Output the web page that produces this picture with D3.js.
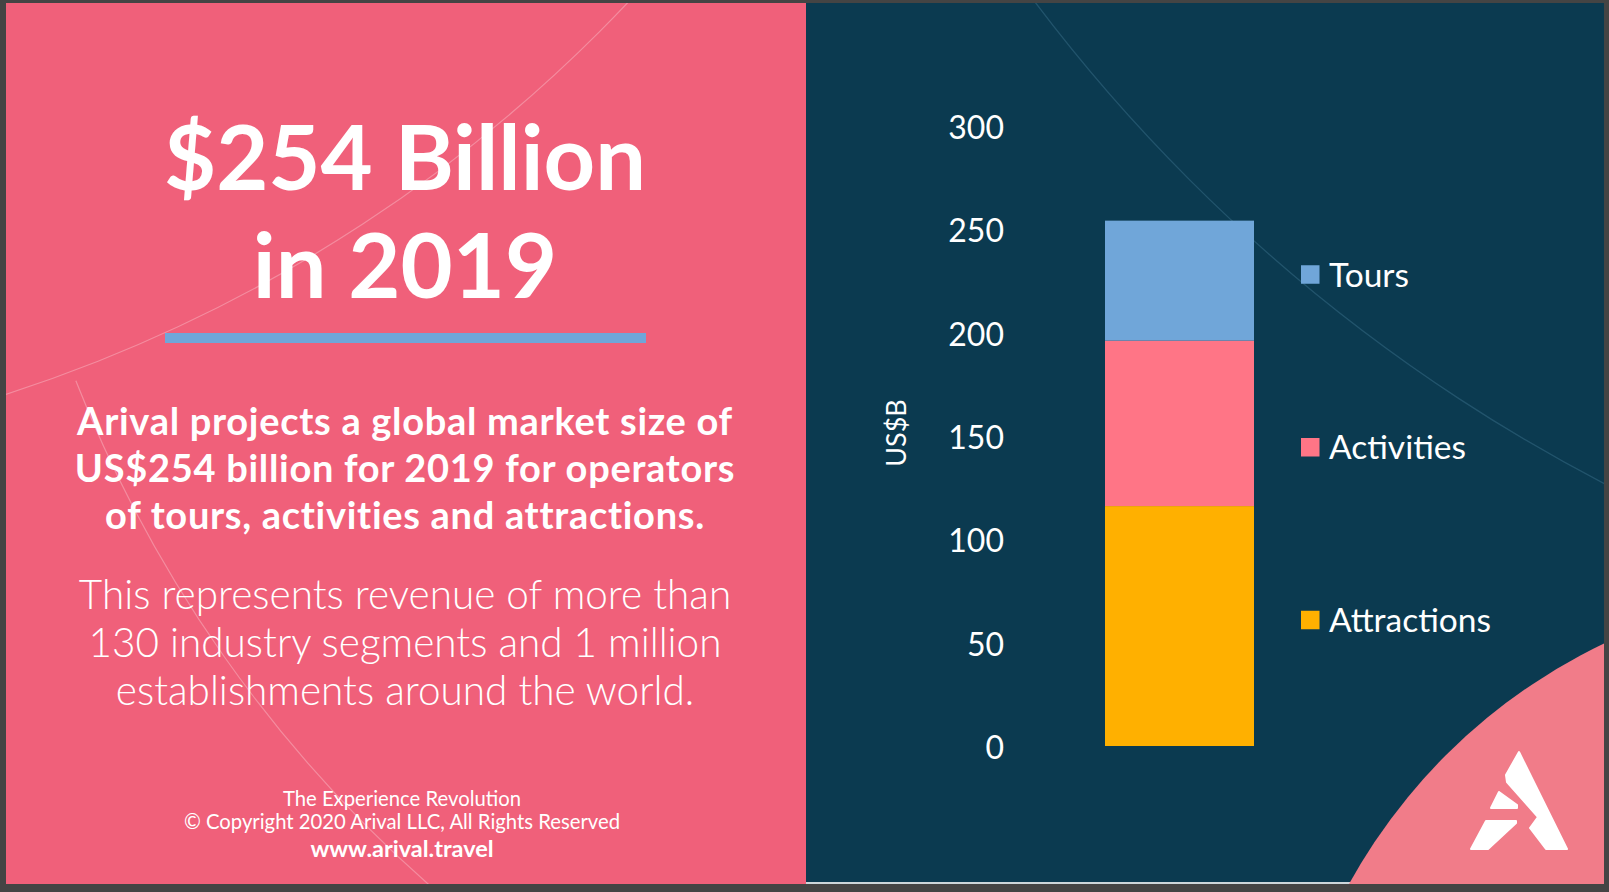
<!DOCTYPE html>
<html><head><meta charset="utf-8">
<script src="https://cdn.jsdelivr.net/npm/d3@7"></script>
<style>html,body{margin:0;padding:0;background:#444444;overflow:hidden}svg{display:block}</style>
</head><body>
<svg id="c" width="1609" height="892"></svg>
<script>
// ---- data ----
const categories = ["2019"];
const seriesNames = ["Attractions", "Activities", "Tours"];
const attractions = [116];
const activities = [80];
const tours = [58];
const seriesColors = ["#FFB000", "#FF7586", "#70A6D9"];
const yTicks = [0, 50, 100, 150, 200, 250, 300];
const yDomain = [0, 300];
const legendOrder = ["Tours", "Activities", "Attractions"];
const axisTitle = "US$B";
const titleLines = ["$254 Billion", "in 2019"];
const boldLines = ["Arival projects a global market size of", "US$254 billion for 2019 for operators", "of tours, activities and attractions."];
const lightLines = ["This represents revenue of more than", "130 industry segments and 1 million", "establishments around the world."];
const footerLines = ["The Experience Revolution", "\u00A9 Copyright 2020 Arival LLC, All Rights Reserved", "www.arival.travel"];

// ---- layout ----
const svg = d3.select("#c");
const W = 1609, H = 892;
const slide = {x0: 6, y0: 3, x1: 1604, y1: 884};
const split = 806;
const pink = "#F0607A", navy = "#0B3A50";
const font = "Lato, 'Open Sans', sans-serif";

const defs = svg.append("defs");
defs.append("clipPath").attr("id", "clipPink").append("rect")
  .attr("x", slide.x0).attr("y", slide.y0).attr("width", split - slide.x0).attr("height", slide.y1 - slide.y0);
defs.append("clipPath").attr("id", "clipNavy").append("rect")
  .attr("x", split).attr("y", slide.y0).attr("width", slide.x1 - split).attr("height", slide.y1 - slide.y0);

svg.append("rect").attr("width", W).attr("height", H).attr("fill", "#444444");
// panels
svg.append("rect").attr("x", slide.x0).attr("y", slide.y0).attr("width", split - slide.x0).attr("height", slide.y1 - slide.y0).attr("fill", pink);
svg.append("rect").attr("x", split).attr("y", slide.y0).attr("width", slide.x1 - split).attr("height", slide.y1 - slide.y0).attr("fill", navy);
svg.append("rect").attr("x", split).attr("y", slide.y1 - 2).attr("width", slide.x1 - split).attr("height", 2).attr("fill", "#cdd6da");

// decorative arcs
const gp = svg.append("g").attr("clip-path", "url(#clipPink)");
gp.append("circle").attr("cx", -446).attr("cy", -1013).attr("r", 1478)
  .attr("fill", "none").attr("stroke", "rgba(255,255,255,0.28)").attr("stroke-width", 1.2);
{
  const cx = 1291, cy = -95, r = 1305;
  const p = d3.path();
  const a0 = Math.atan2(380 - cy, 78 - cx), a1 = Math.atan2(900 - cy, 420 - cx);
  p.arc(cx, cy, r, a0, a1, true);
  gp.append("path").attr("d", p.toString()).attr("fill", "none")
    .attr("stroke", "rgba(255,255,255,0.28)").attr("stroke-width", 1.2);
}
const gn = svg.append("g").attr("clip-path", "url(#clipNavy)");
gn.append("circle").attr("cx", 2383).attr("cy", -1014).attr("r", 1688)
  .attr("fill", "none").attr("stroke", "#22546c").attr("stroke-width", 1.3);
gn.append("circle").attr("cx", 1850).attr("cy", 1160).attr("r", 572).attr("fill", "#F17C89");

// logo
const logo = svg.append("g").attr("fill", "#fff").attr("stroke", "#fff").attr("stroke-width", 2).attr("stroke-linejoin", "round");
[
  [[1519, 752], [1567, 849], [1546, 849], [1530, 828], [1538, 817], [1507, 782], [1506, 775]],
  [[1499, 792], [1517, 805], [1517, 808], [1491, 808]],
  [[1486, 821], [1516, 821], [1516, 823], [1488, 849], [1471, 849]]
].forEach(pts => logo.append("polygon").attr("points", pts.map(p => p.join(",")).join(" ")));

// ---- left text ----
const lt = svg.append("g").attr("fill", "#fff").attr("font-family", font).attr("text-anchor", "middle");
lt.selectAll(".t").data(titleLines).join("text")
  .attr("x", 405).attr("y", (d, i) => 190 + i * 108)
  .attr("font-size", 90).attr("font-weight", 700).text(d => d);
lt.append("rect").attr("x", 165).attr("y", 333).attr("width", 481).attr("height", 10).attr("fill", "#70A6D9");
lt.selectAll(".b").data(boldLines).join("text")
  .attr("x", 405).attr("y", (d, i) => 435 + i * 47)
  .attr("font-size", 38).attr("letter-spacing", 0.7).attr("font-weight", 700).text(d => d);
lt.selectAll(".l").data(lightLines).join("text")
  .attr("x", 405).attr("y", (d, i) => 609 + i * 48)
  .attr("font-size", 40.5).attr("font-weight", 300).text(d => d);
lt.selectAll(".f").data(footerLines).join("text")
  .attr("x", 402).attr("y", (d, i) => [806, 829, 857][i])
  .attr("font-size", (d, i) => i === 2 ? 23.5 : 20.3).attr("font-weight", (d, i) => i === 2 ? 700 : 400).text(d => d);

// ---- chart ----
const y = d3.scaleLinear().domain(yDomain).range([746, 125.5]);
const x = d3.scaleBand().domain(categories).range([1105, 1254]).padding(0);
const rows = categories.map((c, i) => ({cat: c, Attractions: attractions[i], Activities: activities[i], Tours: tours[i]}));
const stack = d3.stack().keys(seriesNames)(rows);
const color = d3.scaleOrdinal().domain(seriesNames).range(seriesColors);

svg.append("g").selectAll("g").data(stack).join("g").attr("fill", d => color(d.key))
  .selectAll("rect").data(d => d).join("rect")
  .attr("x", d => x(d.data.cat)).attr("width", x.bandwidth())
  .attr("y", d => y(d[1])).attr("height", d => y(d[0]) - y(d[1]));

const ax = svg.append("g").attr("transform", "translate(1012,0)")
  .call(d3.axisLeft(y).tickValues(yTicks).tickSize(0).tickPadding(8));
ax.select(".domain").remove();
ax.selectAll("text").attr("fill", "#fff").attr("font-family", font).attr("font-size", 32).attr("dy", "0.4em");

svg.append("text").attr("transform", "translate(906,433) rotate(-90)")
  .attr("text-anchor", "middle").attr("fill", "#fff").attr("font-family", font).attr("font-size", 27).text(axisTitle);

const legY = d3.scalePoint().domain(legendOrder).range([274.5, 620]);
const lg = svg.append("g").selectAll("g").data(legendOrder).join("g")
  .attr("transform", d => `translate(1301,${legY(d)})`);
lg.append("rect").attr("x", 0).attr("y", -9.25).attr("width", 18.5).attr("height", 18.5).attr("fill", d => color(d));
lg.append("text").attr("x", 28).attr("y", 12).attr("fill", "#fff").attr("font-family", font).attr("font-size", 33.5).text(d => d);
</script>
</body></html>
